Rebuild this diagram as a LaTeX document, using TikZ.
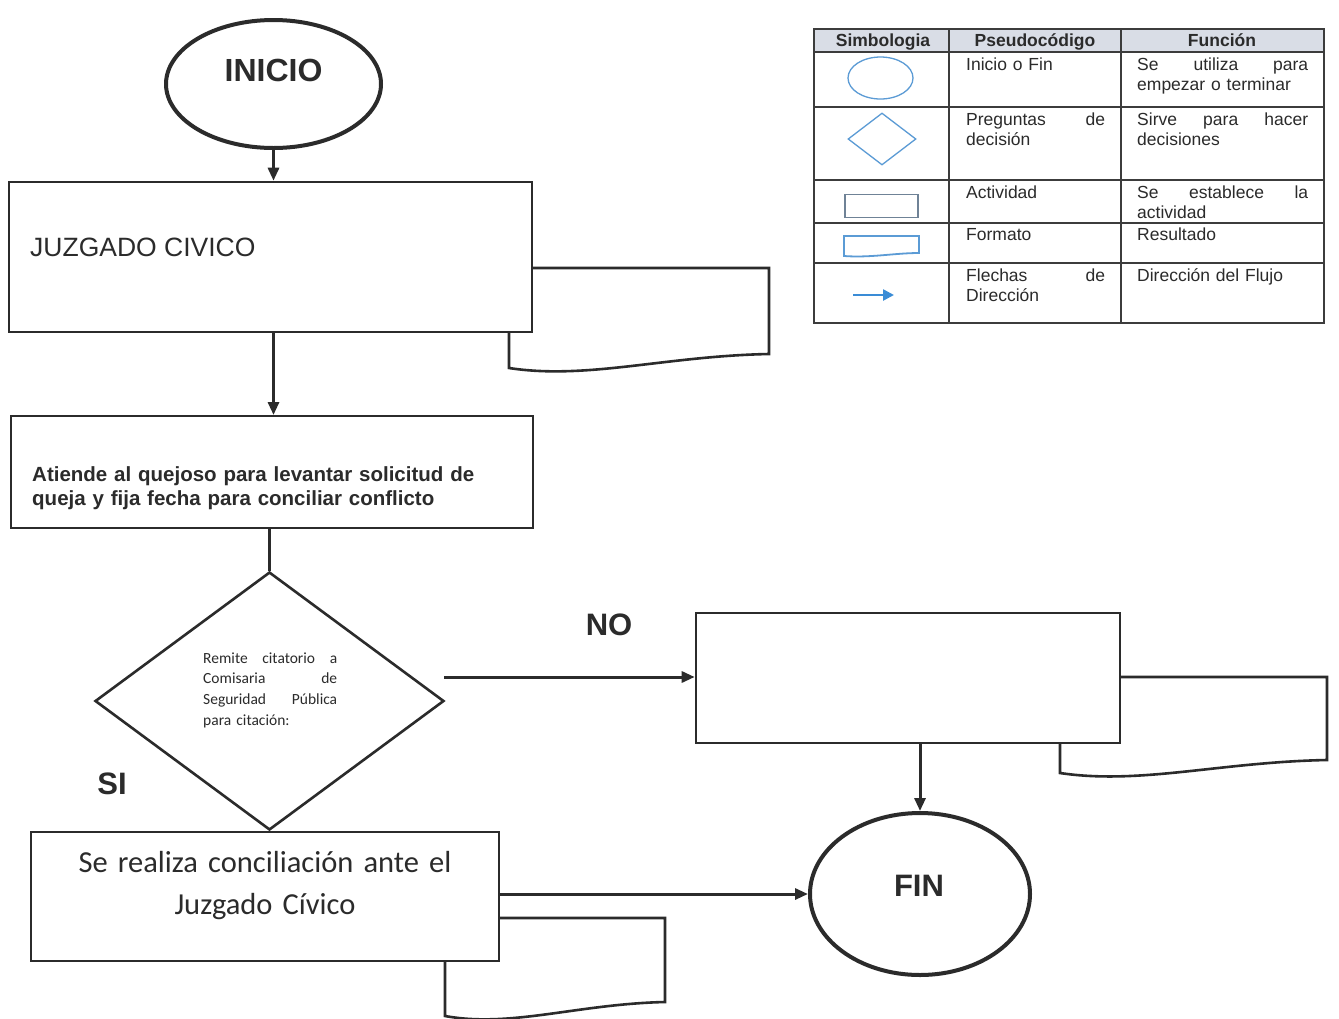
\documentclass[tikz,border=0pt]{standalone}
\usepackage{fontspec}
\setmainfont{Liberation Sans}
\newfontfamily\calib{Carlito}
\usetikzlibrary{shapes.geometric,arrows.meta}
\definecolor{ink}{HTML}{2B2B2B}
\definecolor{symblue}{HTML}{5B9BD5}
\definecolor{arrblue}{HTML}{3A8CD6}
\definecolor{rectgray}{HTML}{6F8296}
\definecolor{headfill}{HTML}{D9DDE6}
\definecolor{gridc}{HTML}{3C3C3C}
\newcommand\fmtshape[5]{%
  \draw[fmt] (#1,#2) -- (#3,#2) -- (#3,#4)
    .. controls ({#1+0.6*(#3-#1)},{#4+2}) and ({#1+0.3*(#3-#1)},{#5+12}) .. (#1,#5) -- cycle;}
\newcommand\jthree[4]{\leavevmode\hbox to #1{#2\hfill#3\hfill#4}}
\newcommand\jtwo[3]{\leavevmode\hbox to #1{#2\hfill#3}}
\begin{document}
\begin{tikzpicture}[x=1pt,y=-1pt,
  arr/.style={draw=ink,line width=3pt,-{Triangle[length=13pt,width=11pt]}},
  plainline/.style={draw=ink,line width=3pt},
  box/.style={draw=ink,line width=2.6pt,fill=white,rectangle,inner sep=0pt},
  term/.style={draw=ink,line width=4pt,fill=white,ellipse,inner sep=0pt},
  fmt/.style={draw=ink,line width=2.6pt,fill=white},
  bigbold/.style={font=\fontsize{31}{37}\selectfont\bfseries,text=ink,inner sep=0pt},
  cell/.style={font=\fontsize{17.5}{20}\selectfont,text=ink,inner sep=0pt,anchor=base west,align=left},
  head/.style={font=\fontsize{17.5}{20}\selectfont\bfseries,text=ink,inner sep=0pt,anchor=base},
]
\fill[white] (0,0) rectangle (1339,1018);
\useasboundingbox (0,0) rectangle (1339,1018);

% ---------- flow chart ----------
\fmtshape{509}{268}{769}{354}{368}
\node[box,minimum width=523pt,minimum height=150pt] (juz) at (270.5,257) {};
\node[anchor=base west,font=\fontsize{26.5}{30}\selectfont,text=ink,inner sep=0pt] (juztext) at (30,256) {JUZGADO CIVICO};

\node[term,minimum width=215pt,minimum height=128pt] (inicio) at (273.5,84) {};
\node[bigbold,font=\fontsize{32}{37}\selectfont\bfseries,anchor=base] (iniciotext) at (273.5,81) {INICIO};

\node[box,line width=2pt,minimum width=522pt,minimum height=112pt] (ati) at (272,472) {};
\node[anchor=base west,text width=500pt,align=left,inner sep=0pt,
      font=\fontsize{20.5}{24}\selectfont\bfseries,text=ink] (atitext) at (32,481)
  {Atiende al quejoso para levantar solicitud de\\queja y fija fecha para conciliar conflicto};

\node[draw=ink,line width=2.6pt,diamond,minimum width=349pt,minimum height=258pt,inner sep=0pt,fill=white] (dec) at (269.5,701) {};
\node[anchor=base west,text width=134pt,align=left,inner sep=0pt,
      font=\calib\fontsize{15.5}{20.7}\selectfont,text=ink] (dectext) at (203,663)
  {\jthree{134pt}{Remite}{citatorio}{a}\\
   \jtwo{134pt}{Comisaria}{de}\\
   \jtwo{134pt}{Seguridad}{Pública}\\
   para citación:};

\fmtshape{1060}{677}{1327}{760}{773}
\node[box,minimum width=424pt,minimum height=130pt] (nobox) at (908,678) {};

\fmtshape{445}{918}{665}{1002}{1016}
\node[box,minimum width=468pt,minimum height=129pt] (conc) at (265,896.5) {};
\node[anchor=base,text width=468pt,align=center,inner sep=0pt,
      font=\calib\fontsize{30.5}{42}\selectfont,text=ink] (conctext) at (265,872)
  {Se realiza conciliación ante el\\Juzgado Cívico};

\node[term,minimum width=220pt,minimum height=162pt] (fin) at (920,894) {};
\node[bigbold,anchor=base] (fintext) at (919,896) {FIN};

\node[bigbold] (nolabel) at (609,625) {NO};
\node[bigbold] (silabel) at (112,784) {SI};

% connectors
\draw[arr] (inicio.south) -- (inicio.south |- juz.north);
\draw[arr] (inicio.south |- juz.south) -- (inicio.south |- ati.north);
\draw[plainline] (dec.north |- ati.south) -- (dec.north);
\coordinate (nostart) at (444,677);
\draw[arr] (nostart) -- (nostart -| nobox.west);
\draw[arr] (fin.north |- nobox.south) -- (fin.north);
\draw[arr] (conc.east |- fin.west) -- (fin.west);

% ---------- legend table ----------
\fill[headfill] (814,29) rectangle (1324,52);
\draw[gridc,line width=1.5pt] (814,29) rectangle (1324,323);
\foreach \yy in {52,107,180,223,263} \draw[gridc,line width=1.5pt] (814,\yy) -- (1324,\yy);
\foreach \xx in {949,1121} \draw[gridc,line width=1.5pt] (\xx,29) -- (\xx,323);

\node[head] (h1) at (883,46) {Simbologia};
\node[head] (h2) at (1035,46) {Pseudocódigo};
\node[head] (h3) at (1222,46) {Función};

\node[cell,text width=139pt] (c21) at (966,70) {Inicio o Fin};
\node[cell,text width=171pt] (c31) at (1137,70) {\jthree{171pt}{Se}{utiliza}{para}\\empezar o terminar};
\node[cell,text width=139pt] (c22) at (966,125) {\jtwo{139pt}{Preguntas}{de}\\decisión};
\node[cell,text width=171pt] (c32) at (1137,125) {\jthree{171pt}{Sirve}{para}{hacer}\\decisiones};
\node[cell,text width=139pt] (c23) at (966,198) {Actividad};
\node[cell,text width=171pt] (c33) at (1137,198) {\jthree{171pt}{Se}{establece}{la}\\actividad};
\node[cell,text width=139pt] (c24) at (966,240) {Formato};
\node[cell,text width=171pt] (c34) at (1137,240) {Resultado};
\node[cell,text width=139pt] (c25) at (966,281) {\jtwo{139pt}{Flechas}{de}\\Dirección};
\node[cell,text width=171pt] (c35) at (1137,281) {Dirección del Flujo};

% symbols
\node[draw=symblue,line width=1.3pt,ellipse,minimum width=65pt,minimum height=42pt,inner sep=0pt] (sym1) at (880.5,78) {};
\node[draw=symblue,line width=1.3pt,diamond,minimum width=68pt,minimum height=52pt,inner sep=0pt] (sym2) at (882,139) {};
\node[draw=rectgray,line width=1.8pt,minimum width=73pt,minimum height=23pt,inner sep=0pt] (sym3) at (881.5,206) {};
\draw[symblue,line width=1.8pt] (844,236) -- (919,236) -- (919,253)
  .. controls (895,253) and (870,258) .. (844,256) -- cycle;
\coordinate (sa) at (853,295);
\coordinate (sb) at (894,295);
\draw[arrblue,line width=2.5pt,-{Triangle[length=11pt,width=11pt]}] (sa) -- (sb);
\end{tikzpicture}
\end{document}
